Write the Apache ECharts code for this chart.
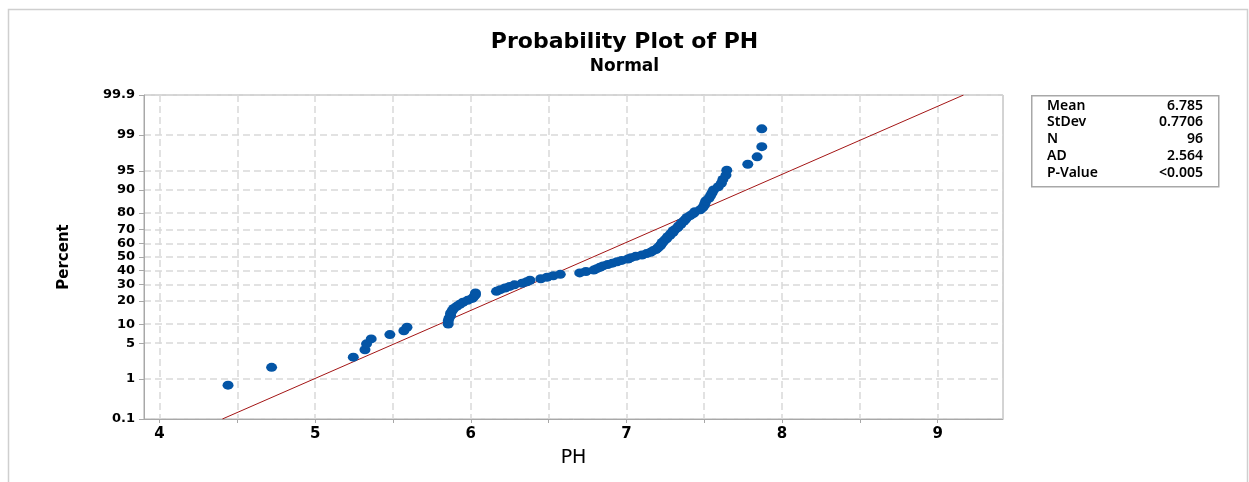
<!DOCTYPE html>
<html>
<head>
	<meta charset="utf-8" />
	<title>Probability Plot of PH</title>
	<script src="https://cdn.jsdelivr.net/npm/echarts@6/dist/echarts.min.js"></script>
	<style>
		html, body { margin: 0; padding: 0; background: #fff; }
		#chart { width: 1249px; height: 482px; }
	</style>
</head>
<body>
	<div id="chart"></div>
	<script type="text/javascript">
		// sorted PH readings
		const phValues = [
			4.44, 4.72, 5.245, 5.32, 5.33, 5.36, 5.48, 5.57, 5.59, 5.855,
			5.855, 5.86, 5.87, 5.87, 5.88, 5.89, 5.91, 5.93, 5.95, 5.98,
			6.01, 6.02, 6.03, 6.03, 6.165, 6.19, 6.22, 6.25, 6.28, 6.33,
			6.36, 6.38, 6.45, 6.49, 6.53, 6.575, 6.70, 6.74, 6.79, 6.81,
			6.83, 6.85, 6.88, 6.91, 6.94, 6.97, 7.01, 7.03, 7.06, 7.10,
			7.13, 7.155, 7.17, 7.19, 7.20, 7.21, 7.22, 7.225, 7.23, 7.24,
			7.25, 7.26, 7.265, 7.28, 7.285, 7.30, 7.30, 7.315, 7.33, 7.335,
			7.35, 7.355, 7.37, 7.38, 7.39, 7.41, 7.43, 7.44, 7.475, 7.49,
			7.50, 7.505, 7.51, 7.53, 7.54, 7.55, 7.56, 7.59, 7.61, 7.62,
			7.64, 7.645, 7.78, 7.84, 7.87, 7.87
		];

		const percentTicks = [0.1, 1, 5, 10, 20, 30, 40, 50, 60, 70, 80, 90, 95, 99, 99.9];
		const percentLabels = ['0.1', '1', '5', '10', '20', '30', '40', '50', '60', '70', '80', '90', '95', '99', '99.9'];
		const phTicks = [4, 5, 6, 7, 8, 9];
		const phGrid = [4, 4.5, 5, 5.5, 6, 6.5, 7, 7.5, 8, 8.5, 9];

		const statNames = ['Mean', 'StDev', 'N', 'AD', 'P-Value'];
		const statValues = ['6.785', '0.7706', '96', '2.564', '<0.005'];
		const fitMean = 6.785;
		const fitStDev = 0.7706;

		// inverse standard normal cdf (Acklam)
		function normInv(p) {
			const a = [-3.969683028665376e+01, 2.209460984245205e+02, -2.759285104469687e+02, 1.383577518672690e+02, -3.066479806614716e+01, 2.506628277459239e+00];
			const b = [-5.447609879822406e+01, 1.615858368580409e+02, -1.556989798598866e+02, 6.680131188771972e+01, -1.328068155288572e+01];
			const c = [-7.784894002430293e-03, -3.223964580411365e-01, -2.400758277161838e+00, -2.549732539343734e+00, 4.374664141464968e+00, 2.938163982698783e+00];
			const d = [7.784695709041462e-03, 3.224671290700398e-01, 2.445134137142996e+00, 3.754408661907416e+00];
			const pl = 0.02425;
			let q, r;
			if (p < pl) {
				q = Math.sqrt(-2 * Math.log(p));
				return (((((c[0] * q + c[1]) * q + c[2]) * q + c[3]) * q + c[4]) * q + c[5]) /
					((((d[0] * q + d[1]) * q + d[2]) * q + d[3]) * q + 1);
			}
			if (p > 1 - pl) {
				q = Math.sqrt(-2 * Math.log(1 - p));
				return -(((((c[0] * q + c[1]) * q + c[2]) * q + c[3]) * q + c[4]) * q + c[5]) /
					((((d[0] * q + d[1]) * q + d[2]) * q + d[3]) * q + 1);
			}
			q = p - 0.5;
			r = q * q;
			return (((((a[0] * r + a[1]) * r + a[2]) * r + a[3]) * r + a[4]) * r + a[5]) * q /
				(((((b[0] * r + b[1]) * r + b[2]) * r + b[3]) * r + b[4]) * r + 1);
		}

		const zTicks = percentTicks.map(function (p) { return normInv(p / 100); });
		const zMin = zTicks[0];
		const zMax = zTicks[zTicks.length - 1];

		// median rank plotting positions
		const n = phValues.length;
		const points = phValues.map(function (v, i) {
			return [v, normInv((i + 1 - 0.3) / (n + 0.4))];
		});

		const fitLine = [
			[fitMean + zMin * fitStDev, zMin],
			[fitMean + zMax * fitStDev, zMax]
		];

		const chart = echarts.init(document.getElementById('chart'));

		const labelFont = 'DejaVu Sans';

		const statTexts = [];
		statNames.forEach(function (name, i) {
			const y = [108, 124, 141, 158, 175][i];
			statTexts.push({
				type: 'text', left: 1047, top: y - 9,
				style: { text: name, font: '600 14px "Noto Sans"', fill: '#000' }
			});
			statTexts.push({
				type: 'text', right: 1249 - 1203, top: y - 9,
				style: { text: statValues[i], font: '600 14px "Noto Sans"', fill: '#000', textAlign: 'right' }
			});
		});

		const option = {
			animation: false,
			backgroundColor: '#fff',
			title: [{
				text: 'Probability Plot of PH',
				left: 'center',
				top: 26,
				textStyle: { fontFamily: labelFont, fontSize: 22, fontWeight: 'bold', color: '#000' }
			}, {
				text: 'Normal',
				left: 'center',
				top: 53,
				textStyle: { fontFamily: labelFont, fontSize: 17, fontWeight: 'bold', color: '#000' }
			}],
			grid: {
				left: 144, right: 246, top: 95, bottom: 63,
				show: true, borderColor: '#a8a8a8', borderWidth: 1
			},
			xAxis: {
				type: 'value',
				min: 3.9,
				max: 9.42,
				name: 'PH',
				nameLocation: 'middle',
				nameGap: 30,
				nameTextStyle: { fontFamily: labelFont, fontSize: 19, color: '#000' },
				axisLine: { onZero: false, lineStyle: { color: '#a8a8a8' } },
				axisTick: { customValues: phGrid, length: 4, lineStyle: { color: '#a8a8a8' } },
				axisLabel: {
					customValues: phTicks,
					margin: 8,
					fontFamily: labelFont, fontSize: 15, fontWeight: 'bold', color: '#000'
				},
				splitLine: { show: true, lineStyle: { color: '#d9d9d9', type: [7, 4], width: 1.5 } }
			},
			yAxis: {
				type: 'value',
				min: zMin,
				max: zMax,
				name: 'Percent',
				nameLocation: 'middle',
				nameGap: 72,
				nameTextStyle: { fontFamily: labelFont, fontSize: 15, fontWeight: 'bold', color: '#000' },
				axisLine: { onZero: false, lineStyle: { color: '#a8a8a8' } },
				axisTick: { customValues: zTicks, length: 5, lineStyle: { color: '#a8a8a8' } },
				axisLabel: {
					customValues: zTicks,
					margin: 9,
					fontFamily: labelFont, fontSize: 13, fontWeight: 'bold', color: '#000',
					formatter: function (val) {
						let best = 0;
						for (let i = 1; i < zTicks.length; i++) {
							if (Math.abs(zTicks[i] - val) < Math.abs(zTicks[best] - val)) best = i;
						}
						return percentLabels[best];
					}
				},
				splitLine: { show: true, lineStyle: { color: '#d9d9d9', type: [7, 4], width: 1.5 } }
			},
			series: [{
				name: 'fit',
				type: 'line',
				data: fitLine,
				symbol: 'none',
				lineStyle: { color: '#a31515', width: 1 },
				z: 2
			}, {
				name: 'PH',
				type: 'scatter',
				data: points,
				symbol: 'circle',
				symbolSize: [11, 9],
				itemStyle: { color: '#0455a6', opacity: 1 },
				z: 3
			}],
			graphic: [{
				type: 'rect',
				left: 6, top: 7,
				shape: { width: 1239, height: 490 },
				style: { fill: 'none', stroke: '#cfcfcf', lineWidth: 1.5 },
				silent: true
			}, {
				type: 'rect',
				left: 1031, top: 95,
				shape: { width: 187, height: 91 },
				style: { fill: '#fff', stroke: '#a8a8a8', lineWidth: 1.5 }
			}].concat(statTexts)
		};

		chart.setOption(option);
	</script>
</body>
</html>
